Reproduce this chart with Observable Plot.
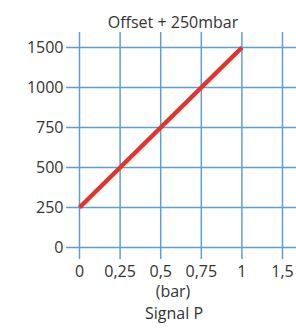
<!DOCTYPE html>
<html><head>
<meta charset="utf-8">
<script src="https://cdn.jsdelivr.net/npm/d3@7"></script>
<script src="https://cdn.jsdelivr.net/npm/@observablehq/plot@0.6"></script>
<style>body{margin:0;background:#fff}</style>
</head><body><div id="chart"></div>
<script>
const xTicks = [0, 0.25, 0.5, 0.75, 1, 1.5];
const yTicks = [0, 250, 500, 750, 1000, 1500];
const signalP = [0, 0.25, 0.5, 0.75, 1];
const output = [250, 500, 750, 1000, 1500];
const title = "Offset + 250mbar";
const xUnit = "(bar)";
const xName = "Signal P";

const data = signalP.map((x, i) => ({x, y: output[i]}));
const W = 296, H = 329;
const mT = 47, mB = 82, mL = 79, mR = 14;
const xRange = xTicks.map((d, i) => mL + i * (W - mR - mL) / (xTicks.length - 1));
const yRange = yTicks.map((d, i) => (H - mB) - i * (H - mB - mT) / (yTicks.length - 1));
const grid = "#5a9fd6";

const chart = Plot.plot({
  width: W, height: H,
  marginTop: mT, marginBottom: mB, marginLeft: mL, marginRight: mR,
  style: {fontFamily: "'Open Sans', sans-serif", fontSize: "15px", color: "#333", background: "#fff"},
  x: {type: "linear", domain: xTicks, range: xRange},
  y: {type: "linear", domain: yTicks, range: yRange},
  marks: [
    Plot.ruleX(xTicks, {x: d => d, stroke: grid, strokeWidth: 1.5, insetTop: -15, insetBottom: -12}),
    Plot.ruleY(yTicks, {y: d => d, stroke: grid, strokeWidth: 1.5, insetLeft: -13, insetRight: -14}),
    Plot.axisX(xTicks, {tickSize: 0, tickPadding: 18, label: null, fontSize: 16, tickFormat: d => String(d).replace(".", ",")}),
    Plot.axisY(yTicks, {tickSize: 0, tickPadding: 16, label: null, fontSize: 16, tickFormat: d => String(d)}),
    Plot.line(data, {x: "x", y: "y", stroke: "#e2342b", strokeWidth: 4.5, strokeLinecap: "butt"}),
    Plot.text([title], {frameAnchor: "top", dy: -31, dx: -8, fontSize: 16}),
    Plot.text([xUnit], {frameAnchor: "bottom", dy: 49, dx: -8, fontSize: 16}),
    Plot.text([xName], {frameAnchor: "bottom", dy: 71, dx: -7, fontSize: 16})
  ]
});
document.getElementById("chart").appendChild(chart);
</script>
</body></html>
